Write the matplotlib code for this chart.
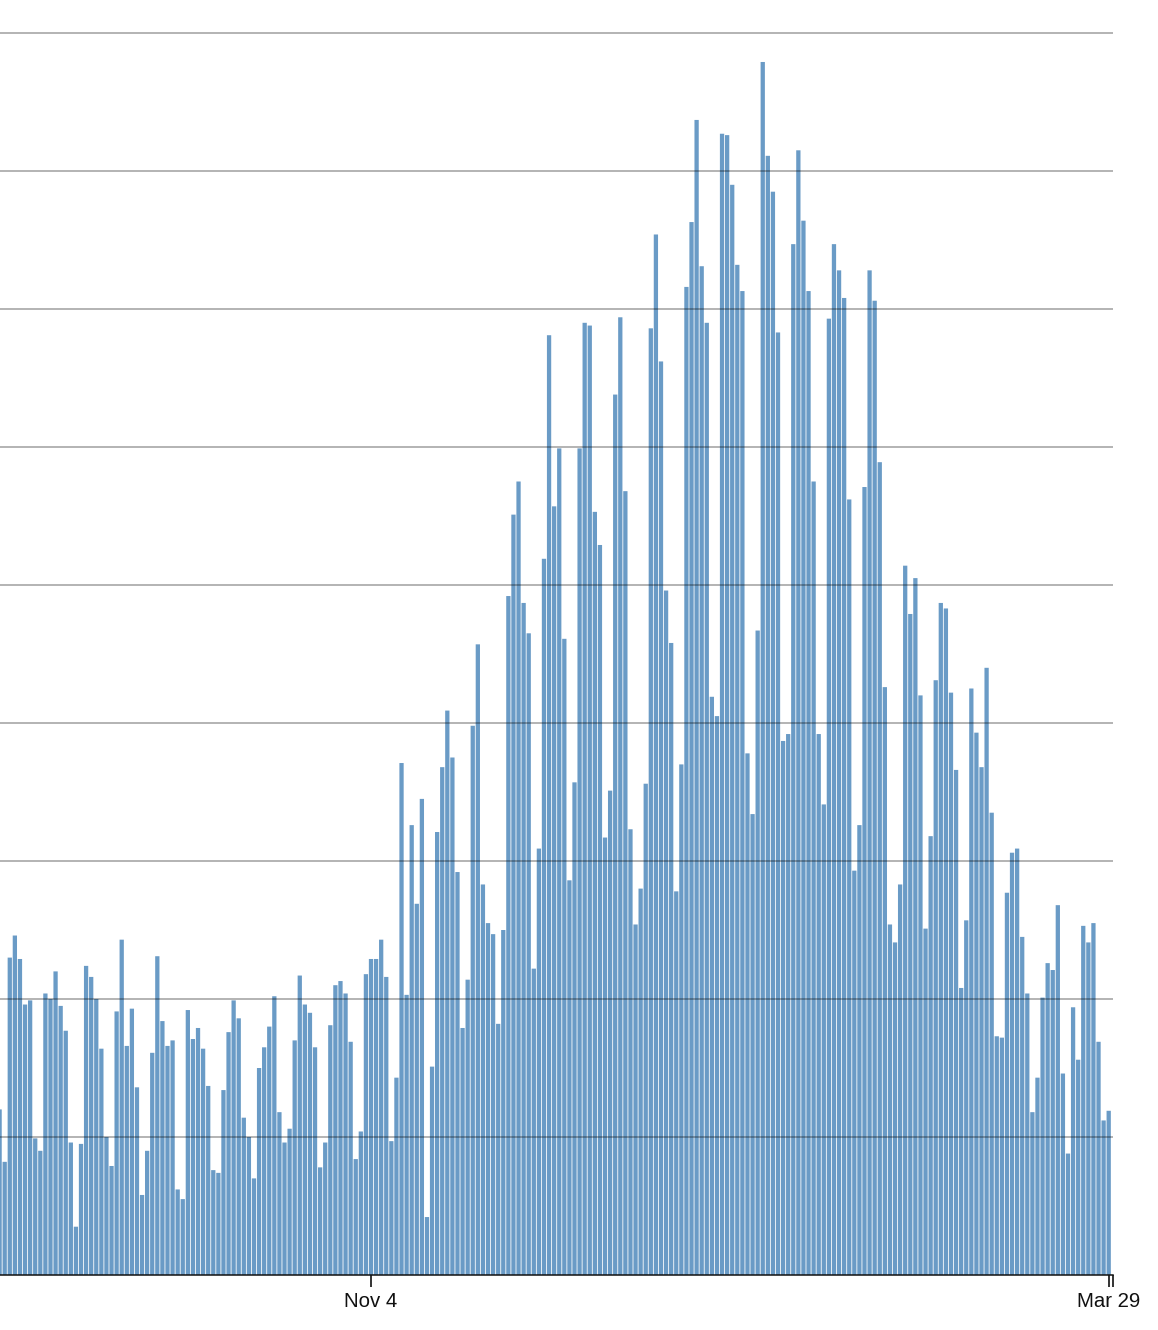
import numpy as np
import pandas as pd
import matplotlib
matplotlib.use("Agg")
import matplotlib.pyplot as plt
import matplotlib.dates as mdates

# ---------------- data ----------------
start_date = "2020-08-23"
values = [
    120, 82, 230, 246, 229, 196, 199, 99, 90, 204,
    200, 220, 195, 177, 96, 35, 95, 224, 216, 200,
    164, 100, 79, 191, 243, 166, 193, 136, 58, 90,
    161, 231, 184, 166, 170, 62, 55, 192, 171, 179,
    164, 137, 76, 74, 134, 176, 199, 186, 114, 100,
    70, 150, 165, 180, 202, 118, 96, 106, 170, 217,
    196, 190, 165, 78, 96, 181, 210, 213, 204, 169,
    84, 104, 218, 229, 229, 243, 216, 97, 143, 371,
    203, 326, 269, 345, 42, 151, 321, 368, 409, 375,
    292, 179, 214, 398, 457, 283, 255, 247, 182, 250,
    492, 551, 575, 487, 465, 222, 309, 519, 681, 557,
    599, 461, 286, 357, 599, 690, 688, 553, 529, 317,
    351, 638, 694, 568, 323, 254, 280, 356, 686, 754,
    662, 496, 458, 278, 370, 716, 763, 837, 731, 690,
    419, 405, 827, 826, 790, 732, 713, 378, 334, 467,
    879, 811, 785, 683, 387, 392, 747, 815, 764, 713,
    575, 392, 341, 693, 747, 728, 708, 562, 293, 326,
    571, 728, 706, 589, 426, 254, 241, 283, 514, 479,
    505, 420, 251, 318, 431, 487, 483, 422, 366, 208,
    257, 425, 393, 368, 440, 335, 173, 172, 277, 306,
    309, 245, 204, 118, 143, 201, 226, 221, 268, 146,
    88, 194, 156, 253, 241, 255, 169, 112, 119,
]
tick_dates = ["2020-11-04", "2021-03-29"]
tick_labels = ["Nov 4", "Mar 29"]
grid_values = [100, 200, 300, 400, 500, 600, 700, 800, 900]

dates = pd.date_range(start_date, periods=len(values), freq="D")

# ---------------- figure ----------------
W, H = 1158, 1330
fig = plt.figure(figsize=(W / 100, H / 100), dpi=100)
plt.rcParams["font.family"] = ["Liberation Sans", "DejaVu Sans"]

ax_right_px = 1113
baseline_px = 1275
ax = fig.add_axes([0, (H - baseline_px) / H, ax_right_px / W, baseline_px / H])

bars = ax.bar(dates, values, width=0.84, color="#6a9bc6", linewidth=0, zorder=1)
for b in bars:
    b.set_snap(False)

# x scale: Nov 4 at 371 px, Mar 29 at 1108.7 px
t0 = mdates.date2num(pd.Timestamp(tick_dates[0]))
t1 = mdates.date2num(pd.Timestamp(tick_dates[1]))
ppd = (1108.7 - 371.0) / (t1 - t0)
x_left = t0 - 371.0 / ppd
x_right = x_left + ax_right_px / ppd
ax.set_xlim(x_left, x_right)

# y scale: 138 px per grid step of 100
ax.set_ylim(0, baseline_px / 1.38)

ax.set_xticks([t0, t1, x_right])
ax.set_xticklabels(tick_labels + [""])
ax.tick_params(axis="x", length=8.5, width=1.2, color="#111111",
               labelsize=14.7, labelcolor="#111111", pad=3.5)

ax.set_yticks(grid_values)
ax.tick_params(axis="y", length=0, labelleft=False)
ax.set_axisbelow(False)
ax.yaxis.grid(True, color="black", alpha=0.32, linewidth=1.3)
ax.xaxis.grid(False)

for s in ["left", "right", "top"]:
    ax.spines[s].set_visible(False)
ax.spines["bottom"].set_color("#111111")
ax.spines["bottom"].set_linewidth(1.1)
ax.spines["bottom"].set_zorder(3)

fig.savefig("out.png", dpi=100)
